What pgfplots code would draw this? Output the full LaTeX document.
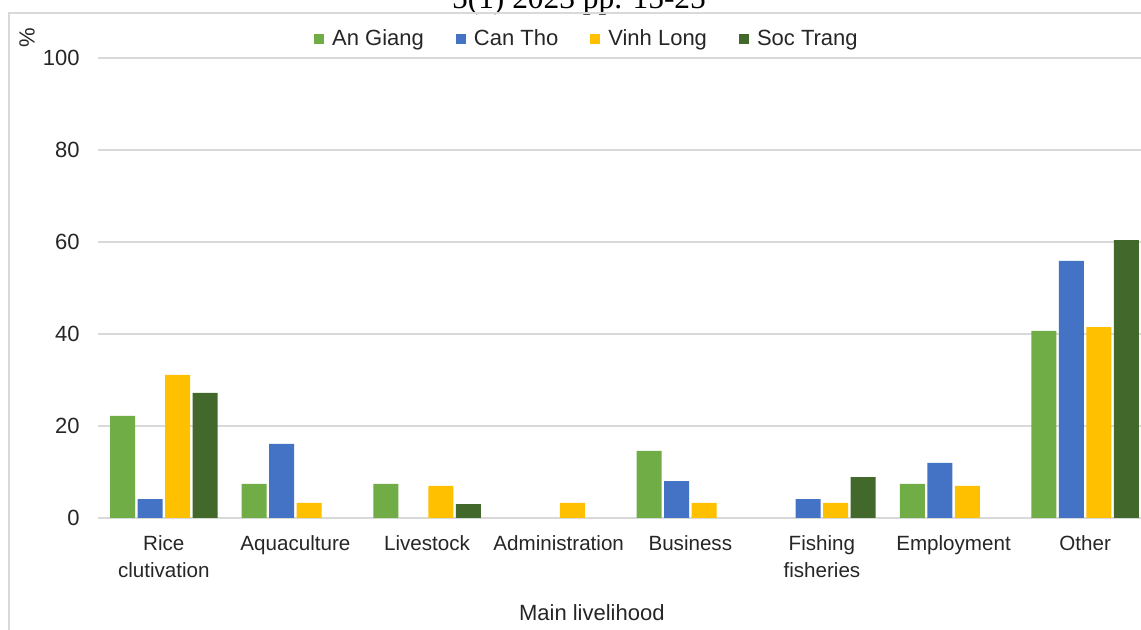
\documentclass[border=0pt]{standalone}
\usepackage{pgfplots}
\pgfplotsset{compat=1.18}
\usepackage{fontspec}
\setmainfont{Liberation Sans}
\newfontfamily\serifx{Liberation Serif}
\definecolor{agc}{HTML}{70AD47}
\definecolor{ctc}{HTML}{4472C4}
\definecolor{vlc}{HTML}{FFC000}
\definecolor{stc}{HTML}{43682B}
\definecolor{gridc}{HTML}{D9D9D9}
\begin{document}
\begin{tikzpicture}
\useasboundingbox (0,0) rectangle (570.5pt,315pt);
\clip (0,0) rectangle (570.5pt,315pt);
\fill[white] (0,0) rectangle (570.5pt,315pt);
\node[anchor=base, font=\serifx\fontsize{15.7}{18}\selectfont, inner sep=0pt] at (289.5pt,310.5pt) {5(1) 2023 pp. 15-25};
\draw[gridc, line width=0.6pt] (4.5pt,-1pt) -- (4.5pt,308.5pt) -- (580pt,308.5pt);
\begin{axis}[
  at={(49pt,56pt)}, anchor=south west,
  scale only axis, width=526.5pt, height=230pt,
  xmin=-0.5, xmax=7.5, ymin=0, ymax=100,
  ybar=1.25pt, bar width=12.5pt,
  axis line style={draw=none},
  major tick length=0pt,
  ytick={0,20,40,60,80,100},
  ymajorgrids, major grid style={gridc, line width=0.75pt},
  xtick={0,1,2,3,4,5,6,7},
  xticklabels={{Rice\\clutivation},Aquaculture,Livestock,Administration,Business,{Fishing\\fisheries},Employment,Other},
  xticklabel style={font=\fontsize{10.3}{13.5}\selectfont, align=center, anchor=north, inner sep=0pt, yshift=-8.5pt, text=black!85},
  yticklabel style={font=\fontsize{11}{13}\selectfont, anchor=east, inner sep=0pt, xshift=-9pt, text=black!85},
  /pgf/number format/assume math mode=true,
  xlabel={Main livelihood},
  xlabel style={at={(axis description cs:0.469,0)}, anchor=center, yshift=-47.5pt, font=\fontsize{11}{13}\selectfont, text=black!85},
  ylabel={\%},
  ylabel style={at={(axis description cs:-0.0674,1.0435)}, anchor=center, rotate=0, font=\fontsize{11}{13}\selectfont, text=black!85},
  legend columns=4,
  legend style={at={(axis description cs:0.4653,1.0413)}, anchor=center, draw=none, fill=none,
    font=\fontsize{11}{13}\selectfont, text=black!85,
    /tikz/every odd column/.append style={column sep=2pt},
    /tikz/every even column/.append style={column sep=14pt}, inner sep=0pt},
  legend image code/.code={\fill[#1] (0pt,-2.5pt) rectangle (5pt,2.5pt);},
  clip=true,
]
\addplot[fill=agc, draw=none] coordinates {(0,22.2) (1,7.4) (2,7.4) (4,14.6) (6,7.4) (7,40.7)};
\addplot[fill=ctc, draw=none] coordinates {(0,4.1) (1,16.1) (4,8.0) (5,4.1) (6,12.0) (7,55.9)};
\addplot[fill=vlc, draw=none] coordinates {(0,31.1) (1,3.3) (2,7.0) (3,3.3) (4,3.3) (5,3.3) (6,7.0) (7,41.5)};
\addplot[fill=stc, draw=none] coordinates {(0,27.2) (2,3.0) (5,8.9) (7,60.4)};
\legend{An Giang, Can Tho, Vinh Long, Soc Trang}
\end{axis}
\end{tikzpicture}
\end{document}
